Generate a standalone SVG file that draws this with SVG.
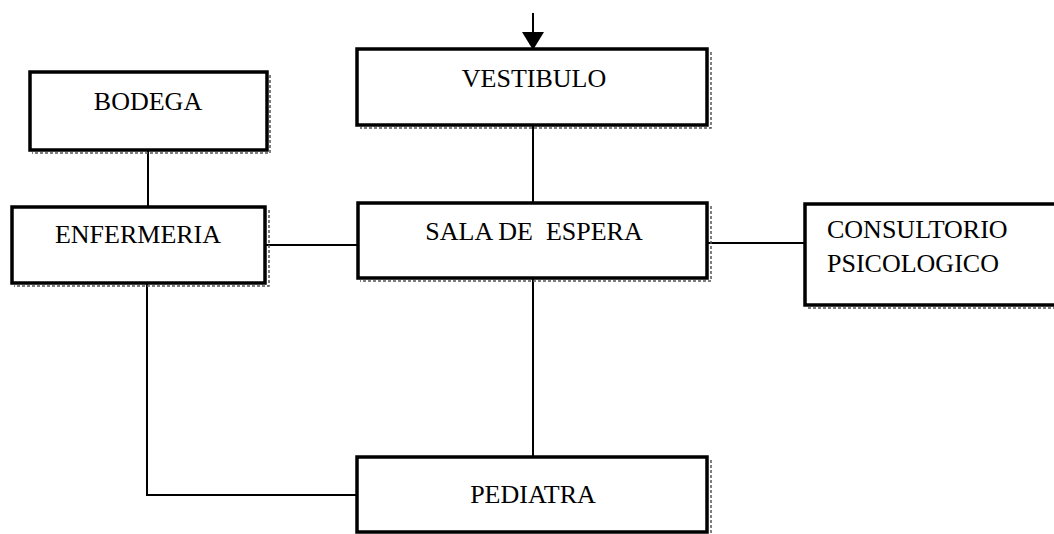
<svg xmlns="http://www.w3.org/2000/svg" width="1054" height="534" viewBox="0 0 1054 534">
<style>
.box{fill:#fff;stroke:#000;stroke-width:3.5}
.sh{fill:none;stroke:#555;stroke-width:1.5;stroke-dasharray:3 2}
.lbl{font-family:"Liberation Serif","Times New Roman",serif;font-size:26px;fill:#000}
.c{text-anchor:middle}
.con{fill:none;stroke:#000;stroke-width:2}
</style>
<defs>
<marker id="arr" markerWidth="22" markerHeight="18" refX="11" refY="18" orient="auto" markerUnits="userSpaceOnUse" viewBox="0 0 22 18">
<path d="M0,0 L22,0 L11,18 Z" fill="#000"/>
</marker>
</defs>
<rect width="1054" height="534" fill="#fff"/>
<g id="connectors">
<line class="con" x1="533" y1="13" x2="533" y2="32"/>
<path d="M522,32 L544,32 L533,50 Z" fill="#000"/>
<line class="con" x1="533" y1="125" x2="533" y2="203"/>
<line class="con" x1="148" y1="150" x2="148" y2="207"/>
<line class="con" x1="265" y1="245" x2="358" y2="245"/>
<line class="con" x1="707" y1="243" x2="805" y2="243"/>
<line class="con" x1="533" y1="278" x2="533" y2="457"/>
<polyline class="con" points="147,283 147,495 357,495"/>
</g>
<g id="bodega">
<path class="sh" d="M270,75 L270,153 L32,153"/>
<rect class="box" x="30" y="72" width="237" height="78"/>
<text class="lbl c" x="148" y="110">BODEGA</text>
</g>
<g id="vestibulo">
<path class="sh" d="M711,52 L711,128 L360,128"/>
<rect class="box" x="357" y="49" width="350" height="76"/>
<text class="lbl c" x="534" y="87">VESTIBULO</text>
</g>
<g id="enfermeria">
<path class="sh" d="M269,210 L269,286 L14,286"/>
<rect class="box" x="12" y="207" width="253" height="76"/>
<text class="lbl c" x="138" y="243">ENFERMERIA</text>
</g>
<g id="sala">
<path class="sh" d="M711,206 L711,281 L360,281"/>
<rect class="box" x="358" y="203" width="349" height="75"/>
<text class="lbl c" x="534" y="240" xml:space="preserve">SALA DE  ESPERA</text>
</g>
<g id="consultorio">
<path class="sh" d="M808,308 L1054,308"/>
<rect class="box" x="805" y="204" width="260" height="101"/>
<text class="lbl" x="827" y="238">CONSULTORIO</text>
<text class="lbl" x="827" y="272">PSICOLOGICO</text>
</g>
<g id="pediatra">
<path class="sh" d="M711,460 L711,534"/>
<rect class="box" x="357" y="457" width="350" height="75"/>
<text class="lbl c" x="533" y="503">PEDIATRA</text>
</g>
</svg>
